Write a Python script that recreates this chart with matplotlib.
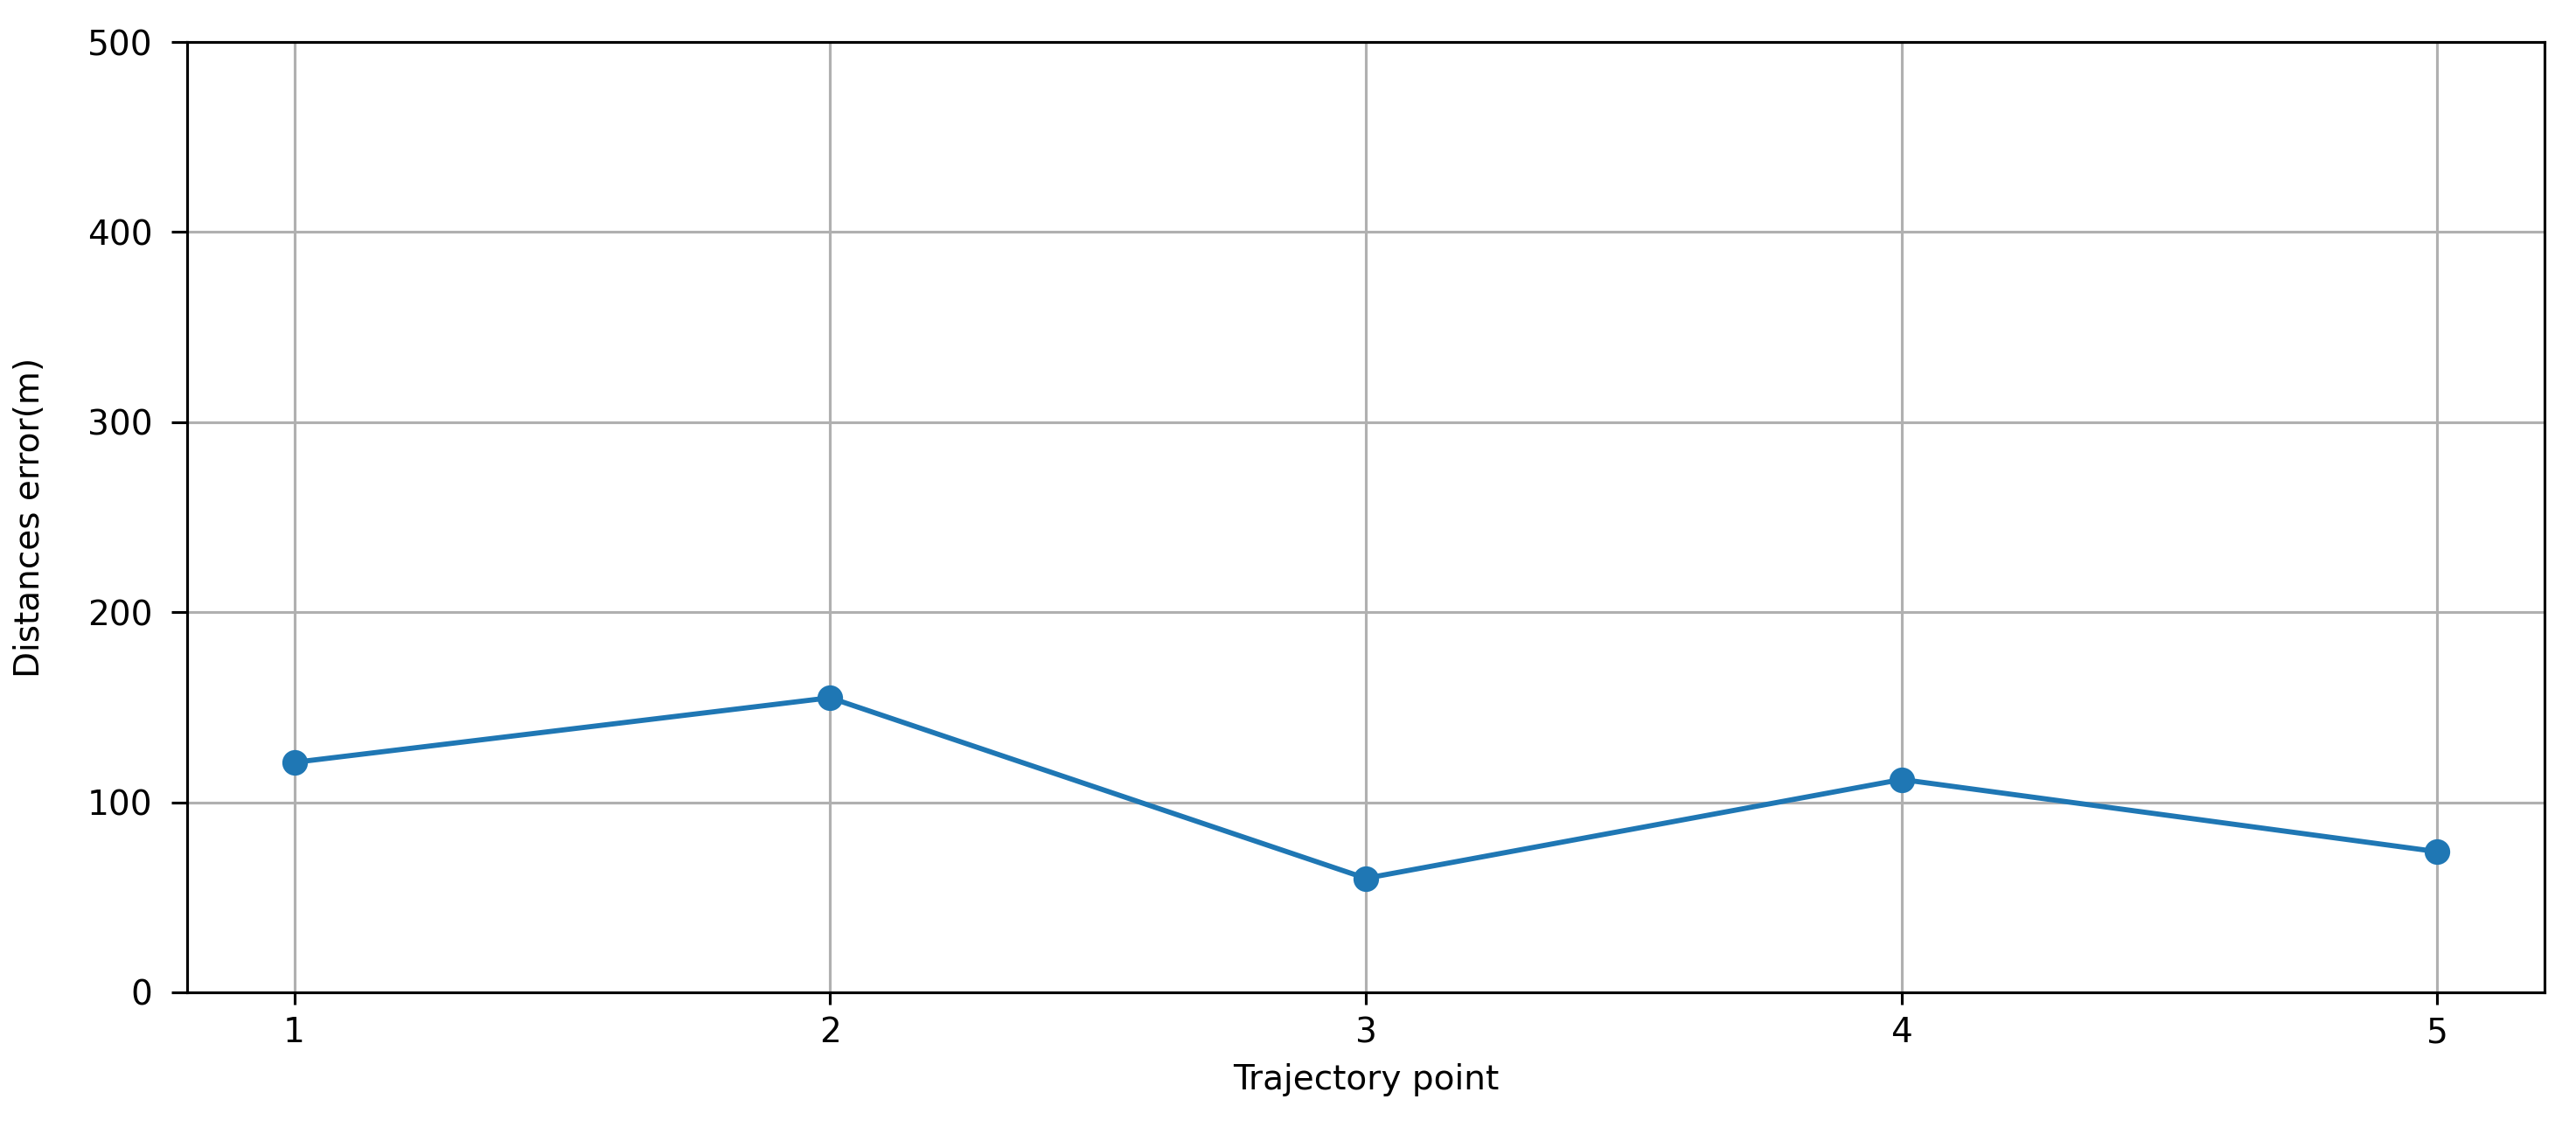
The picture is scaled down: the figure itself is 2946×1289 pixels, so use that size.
import matplotlib
matplotlib.use("Agg")
import matplotlib.pyplot as plt

# Data
trajectory_points = [1, 2, 3, 4, 5]
distance_errors = [121, 155, 60, 112, 74]
y_ticks = [0, 100, 200, 300, 400, 500]

DPI = 281
fig = plt.figure(figsize=(2946 / DPI, 1289 / DPI), dpi=DPI)
ax = fig.add_axes([214 / 2946, 1 - 1135 / 1289, (2910 - 214) / 2946, (1135 - 48) / 1289])

ax.plot(trajectory_points, distance_errors, marker='o', color='#1f77b4',
        linewidth=1.5, markersize=6.5)

ax.set_ylim(0, 500)
ax.set_yticks(y_ticks)
ax.set_xticks(trajectory_points)
ax.set_xlim(0.8, 5.2)
ax.grid(True)
ax.tick_params(axis='y', length=4.6, pad=5.5)

ax.set_xlabel("Trajectory point")
ax.set_ylabel("Distances error(m)")
ax.yaxis.set_label_coords(-0.0597, 0.5)

fig.savefig("out.png", dpi=DPI)
